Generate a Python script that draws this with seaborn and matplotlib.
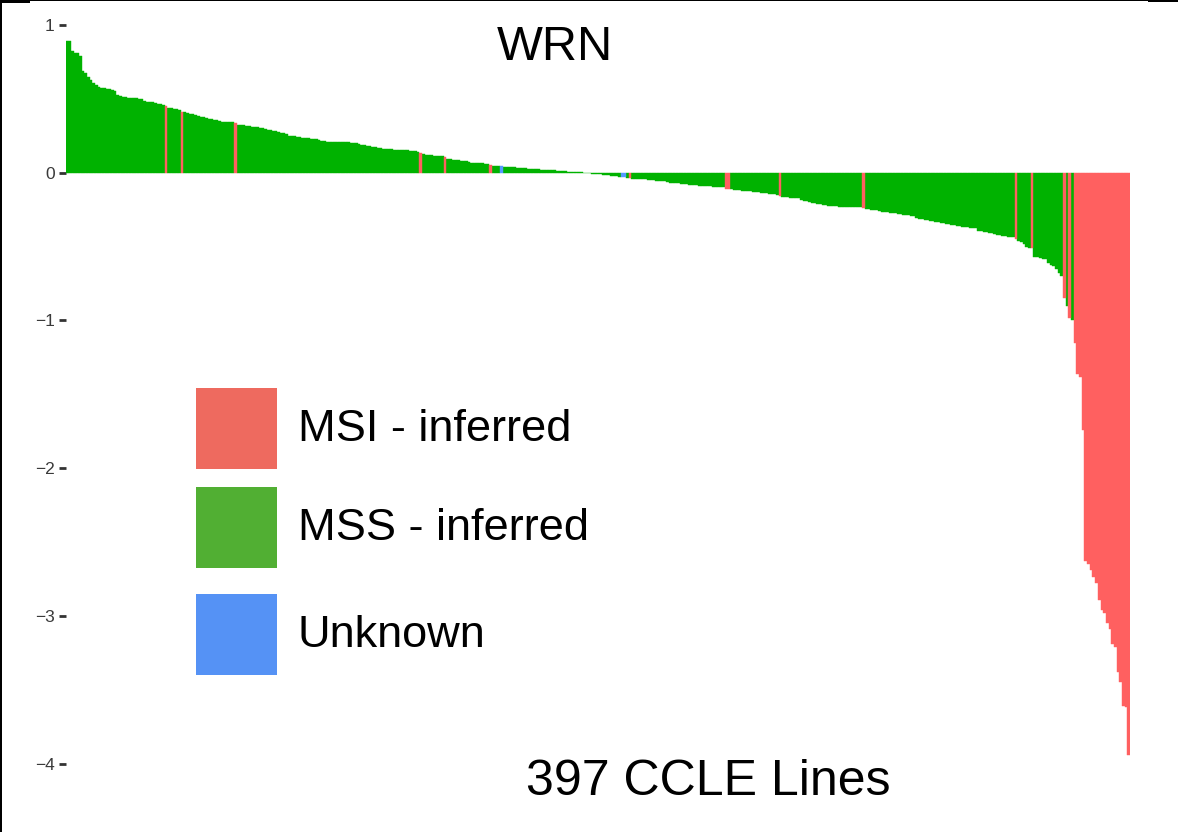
import numpy as np
import pandas as pd
import matplotlib
matplotlib.use("Agg")
import matplotlib.pyplot as plt
from matplotlib.patches import Rectangle
import matplotlib.colors as mcolors
import seaborn as sns

# ---------------- data ----------------
wrn_score = [
    0.894, 0.890, 0.826, 0.812, 0.810, 0.790, 0.690, 0.677, 0.650, 0.628,
    0.609, 0.594, 0.582, 0.575, 0.571, 0.570, 0.568, 0.562, 0.556, 0.526,
    0.520, 0.515, 0.510, 0.508, 0.507, 0.506, 0.505, 0.498, 0.496, 0.486,
    0.482, 0.480, 0.476, 0.470, 0.466, 0.463, 0.460, 0.452, 0.440, 0.435,
    0.430, 0.428, 0.424, 0.410, 0.408, 0.405, 0.400, 0.396, 0.390, 0.385,
    0.380, 0.375, 0.370, 0.362, 0.361, 0.360, 0.356, 0.348, 0.346, 0.345,
    0.344, 0.342, 0.340, 0.334, 0.326, 0.324, 0.322, 0.318, 0.315, 0.312,
    0.310, 0.307, 0.305, 0.302, 0.298, 0.292, 0.288, 0.284, 0.280, 0.276,
    0.272, 0.268, 0.262, 0.250, 0.248, 0.246, 0.244, 0.240, 0.236, 0.234,
    0.232, 0.230, 0.228, 0.225, 0.222, 0.215, 0.212, 0.210, 0.210, 0.209,
    0.208, 0.208, 0.207, 0.206, 0.206, 0.205, 0.204, 0.202, 0.198, 0.194,
    0.190, 0.186, 0.182, 0.178, 0.175, 0.172, 0.170, 0.168, 0.160, 0.159,
    0.158, 0.158, 0.157, 0.157, 0.156, 0.155, 0.154, 0.152, 0.150, 0.148,
    0.146, 0.140, 0.131, 0.124, 0.122, 0.120, 0.118, 0.116, 0.114, 0.112,
    0.110, 0.104, 0.092, 0.090, 0.088, 0.086, 0.084, 0.080, 0.078, 0.076,
    0.070, 0.068, 0.067, 0.066, 0.065, 0.064, 0.062, 0.060, 0.052, 0.048,
    0.047, 0.046, 0.045, 0.040, 0.039, 0.038, 0.037, 0.036, 0.034, 0.033,
    0.032, 0.031, 0.026, 0.025, 0.024, 0.023, 0.022, 0.021, 0.020, 0.019,
    0.018, 0.017, 0.015, 0.014, 0.012, 0.011, 0.009, 0.008, 0.007, 0.005,
    0.004, 0.003, 0.002, 0.001, -0.003, -0.005, -0.007, -0.009, -0.010, -0.012,
    -0.014, -0.016, -0.018, -0.020, -0.022, -0.024, -0.027, -0.030, -0.032, -0.033,
    -0.034, -0.040, -0.041, -0.042, -0.044, -0.045, -0.046, -0.048, -0.050, -0.052,
    -0.053, -0.055, -0.056, -0.058, -0.060, -0.068, -0.070, -0.072, -0.073, -0.075,
    -0.076, -0.078, -0.080, -0.082, -0.083, -0.085, -0.087, -0.088, -0.090, -0.092,
    -0.093, -0.095, -0.097, -0.098, -0.099, -0.100, -0.110, -0.112, -0.113, -0.115,
    -0.117, -0.119, -0.121, -0.123, -0.125, -0.127, -0.129, -0.131, -0.133, -0.135,
    -0.137, -0.140, -0.142, -0.144, -0.146, -0.150, -0.158, -0.163, -0.165, -0.167,
    -0.169, -0.171, -0.172, -0.174, -0.185, -0.190, -0.194, -0.198, -0.202, -0.206,
    -0.210, -0.213, -0.217, -0.220, -0.226, -0.227, -0.227, -0.228, -0.229, -0.229,
    -0.230, -0.231, -0.232, -0.232, -0.233, -0.234, -0.235, -0.240, -0.246, -0.248,
    -0.250, -0.252, -0.253, -0.260, -0.263, -0.265, -0.268, -0.270, -0.273, -0.276,
    -0.278, -0.281, -0.284, -0.286, -0.289, -0.291, -0.293, -0.310, -0.313, -0.316,
    -0.320, -0.323, -0.326, -0.330, -0.333, -0.337, -0.340, -0.343, -0.346, -0.349,
    -0.352, -0.354, -0.360, -0.362, -0.365, -0.367, -0.370, -0.372, -0.375, -0.377,
    -0.395, -0.398, -0.401, -0.404, -0.407, -0.410, -0.415, -0.420, -0.423, -0.426,
    -0.429, -0.432, -0.435, -0.438, -0.451, -0.460, -0.470, -0.485, -0.500, -0.510,
    -0.512, -0.569, -0.572, -0.577, -0.582, -0.587, -0.610, -0.625, -0.635, -0.655,
    -0.680, -0.700, -0.845, -0.900, -0.985, -1.000, -1.156, -1.360, -1.380, -1.740,
    -2.630, -2.650, -2.690, -2.740, -2.780, -2.890, -2.960, -2.980, -3.050, -3.090,
    -3.190, -3.210, -3.380, -3.450, -3.610, -3.620, -3.940,
]

# rank positions (0-based) of lines by inferred MSI status
msi_positions = [37, 43, 63, 132, 141, 158, 210, 246, 247, 266, 297, 354, 360,
                 372, 374, 376, 377, 378, 379, 380, 381, 382, 383, 384, 385,
                 386, 387, 388, 389, 390, 391, 392, 393, 394, 395, 396]
unknown_positions = [162, 207, 208]

status_labels = ["MSI - inferred", "MSS - inferred", "Unknown"]
bar_colors = ["#FF6060", "#00B200", "#5599FF"]
legend_colors = ["#EE6A5F", "#51AF33", "#5592F5"]

y_ticks = [1, 0, -1, -2, -3, -4]
y_tick_labels = ["1", "0", "\u22121", "\u22122", "\u22123", "\u22124"]

title_text = "WRN"
footer_text = "397 CCLE Lines"

# ---------------- frame ----------------
status = []
for i in range(len(wrn_score)):
    if i in msi_positions:
        status.append(status_labels[0])
    elif i in unknown_positions:
        status.append(status_labels[2])
    else:
        status.append(status_labels[1])

df = pd.DataFrame({"rank": list(range(len(wrn_score))),
                   "score": wrn_score,
                   "status": status})

# ---------------- plot ----------------
sns.set_style("white")
plt.rcParams["font.family"] = ["Liberation Sans", "DejaVu Sans"]

W, H = 1178, 832
fig = plt.figure(figsize=(W / 100, H / 100), dpi=100)
fig.patch.set_facecolor("white")

px_per_unit = 147.7
zero_px = 172.7
ylo, yhi = -4.2, 1.1
top_px = zero_px - yhi * px_per_unit
bot_px = zero_px - ylo * px_per_unit
left_px, right_px = 65.5, 1130.0
ax = fig.add_axes([left_px / W, 1 - bot_px / H,
                   (right_px - left_px) / W, (bot_px - top_px) / H])

sns.barplot(data=df, x="rank", y="score", hue="status",
            hue_order=status_labels,
            palette=dict(zip(status_labels, bar_colors)),
            dodge=False, width=1.0, saturation=1, errorbar=None,
            linewidth=0, legend=False, ax=ax)

green_rgb = mcolors.to_rgb(bar_colors[1])
for p in ax.patches:
    fc = p.get_facecolor()
    p.set_edgecolor(fc)
    p.set_linewidth(0.3)
    if tuple(np.round(fc[:3], 3)) != tuple(np.round(green_rgb, 3)):
        p.set_zorder(3)
    else:
        p.set_zorder(2)

ax.set_xlim(-0.5, len(wrn_score) - 0.5)
ax.set_ylim(ylo, yhi)
ax.set_xticks([])
ax.set_yticks(y_ticks)
ax.set_yticklabels(y_tick_labels)
ax.tick_params(axis="y", direction="out", length=4.8, width=2.0,
               color="#333333", labelcolor="#3A3A3A", labelsize=12.5, pad=3,
               left=True)
ax.set_xlabel("")
ax.set_ylabel("")
for s in ax.spines.values():
    s.set_visible(False)
ax.set_facecolor("none")

# title and footer
fig.text(554.5 / W, 1 - 47 / H, title_text, ha="center", va="center",
         fontsize=35, color="black")
fig.text(708.3 / W, 1 - 782 / H, footer_text, ha="center", va="center",
         fontsize=36, color="black")

# legend (manual keys)
key_x, key_w = 196, 81
key_tops = [387.7, 487.0, 594.0]
for top, col, lab in zip(key_tops, legend_colors, status_labels):
    fig.patches.append(Rectangle((key_x / W, 1 - (top + key_w) / H),
                                 key_w / W, key_w / H,
                                 transform=fig.transFigure, facecolor=col,
                                 edgecolor="none", zorder=5))
    fig.text(297.5 / W, 1 - (top + key_w / 2 + 1) / H, lab, ha="left",
             va="center", fontsize=32.5, color="black", zorder=6)

# black frame edges of the original screenshot
def frame_rect(x, y, w, h):
    fig.patches.append(Rectangle((x / W, 1 - (y + h) / H), w / W, h / H,
                                 transform=fig.transFigure, facecolor="black",
                                 edgecolor="none", zorder=10))

frame_rect(0, 0, W, 1.3)
frame_rect(0, 0, 30, 2.7)
frame_rect(1148, 0, 30, 2.4)
frame_rect(0, 0, 2.0, H)

fig.savefig("out.png", dpi=100, facecolor="white")
